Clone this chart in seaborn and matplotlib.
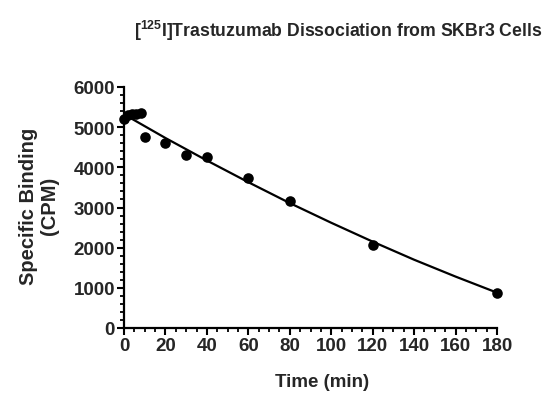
#!/usr/bin/env python3
import numpy as np
import pandas as pd
import seaborn as sns
import matplotlib.pyplot as plt
from matplotlib.ticker import MultipleLocator

# measured points
time_min = [0, 2, 4, 6, 8, 10, 20, 30, 40, 60, 80, 120, 180]
binding_cpm = [5200, 5300, 5330, 5340, 5350, 4760, 4600, 4310, 4250, 3727, 3154, 2066, 870]

# fitted dissociation curve
fit_time = [0, 20, 40, 60, 80, 100, 120, 140, 160, 180]
fit_cpm = [5320, 4730, 4170, 3630, 3110, 2620, 2150, 1700, 1280, 880]

df = pd.DataFrame({"Time (min)": time_min, "Specific Binding": binding_cpm})
fit = pd.DataFrame({"Time (min)": fit_time, "Specific Binding": fit_cpm})

sns.set_theme(style="ticks")
plt.rcParams["font.family"] = ["Liberation Sans", "DejaVu Sans"]
plt.rcParams["font.weight"] = "bold"
plt.rcParams["mathtext.fontset"] = "custom"
plt.rcParams["mathtext.rm"] = "Liberation Sans:bold"
plt.rcParams["mathtext.bf"] = "Liberation Sans:bold"

fig = plt.figure(figsize=(5.48, 4.02), dpi=100)
ax = fig.add_axes([124 / 548, 1 - 329 / 402, (497 - 124) / 548, (329 - 88) / 402])

sns.lineplot(data=fit, x="Time (min)", y="Specific Binding", ax=ax,
             color="black", linewidth=1.6, clip_on=False)
sns.scatterplot(data=df, x="Time (min)", y="Specific Binding", ax=ax,
                color="black", s=58, edgecolor="black", linewidth=0, clip_on=False, zorder=3)

ax.set_xlim(0, 180)
ax.set_ylim(0, 6000)
ax.xaxis.set_major_locator(MultipleLocator(20))
ax.xaxis.set_minor_locator(MultipleLocator(5))
ax.yaxis.set_major_locator(MultipleLocator(1000))
ax.yaxis.set_minor_locator(MultipleLocator(200))
ax.tick_params(which="major", length=5, width=1.5, labelsize=13.5, pad=1.5, color="black")
ax.tick_params(which="minor", length=3, width=1.3, color="black")
for lab in ax.get_xticklabels() + ax.get_yticklabels():
    lab.set_fontweight("bold")

sns.despine(ax=ax)
for side in ["left", "bottom"]:
    ax.spines[side].set_linewidth(1.6)
    ax.spines[side].set_color("black")

ax.set_xlabel("")
ax.set_ylabel("")
fig.text(322 / 548, 1 - 383 / 402, "Time (min)", ha="center", va="center",
         fontsize=13.5, fontweight="bold")
fig.text(39 / 548, 1 - 206 / 402, "Specific Binding\n(CPM)", ha="center", va="center",
         rotation=90, fontsize=14.5, fontweight="bold", linespacing=1.1)
fig.text(338 / 548, 1 - 31 / 402, r"[$^{125}$I]Trastuzumab Dissociation from SKBr3 Cells",
         ha="center", va="center", fontsize=12.7, fontweight="bold")

fig.savefig("out.png", dpi=100)
